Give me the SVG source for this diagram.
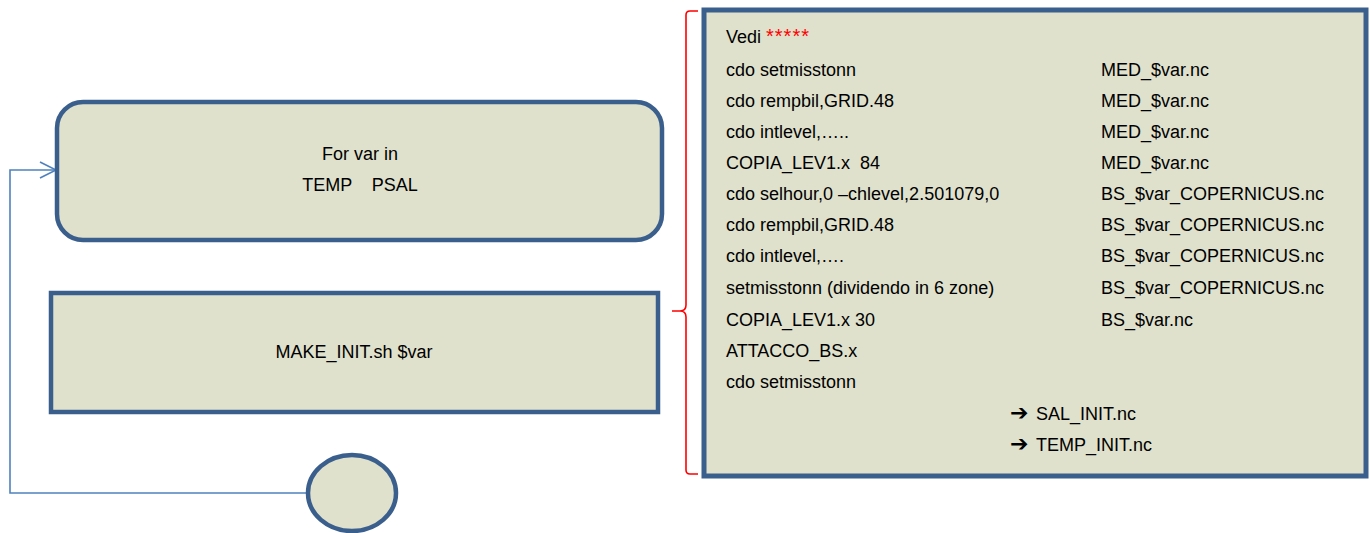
<svg xmlns="http://www.w3.org/2000/svg" width="1370" height="533" viewBox="0 0 1370 533">
<defs>
<style>
.box{fill:#DFE1CC;stroke:#3A5F8C;stroke-width:4.5}
.t{font-family:"Liberation Sans",Arial,sans-serif;font-size:18px;fill:#000}
.c{text-anchor:middle}
.ar{font-family:"DejaVu Sans",sans-serif;font-weight:bold;font-size:22px}
.conn{fill:none;stroke:#4F81BD;stroke-width:1.6}
</style>
<marker id="open" viewBox="0 0 20 20" refX="18" refY="10" markerWidth="20" markerHeight="20" markerUnits="userSpaceOnUse" orient="auto">
<path d="M2,2 L18,10 L2,18" fill="none" stroke="#4F81BD" stroke-width="1.6"/>
</marker>
</defs>
<g id="connectors">
<path class="conn" d="M308,493 H10 V170 H56" marker-end="url(#open)"/>
<path id="brace" d="M698,11 H690 Q686,11 686,15 V305 Q686,311 680,311 H672 M680,311 Q686,311 686,317 V470 Q686,474 690,474 H698" fill="none" stroke="#FF0000" stroke-width="1.6"/>
</g>
<g id="loop">
<rect class="box" x="57" y="102" width="605" height="138" rx="26"/>
<text class="t c" x="360" y="160">For var in</text>
<text class="t c" x="360" y="191" xml:space="preserve">TEMP    PSAL</text>
</g>
<g id="make">
<rect class="box" x="51" y="293" width="607" height="119"/>
<text class="t c" x="354" y="358">MAKE_INIT.sh $var</text>
</g>
<g id="end">
<ellipse class="box" cx="352" cy="493" rx="44" ry="38"/>
</g>
<g id="details">
<rect class="box" x="704" y="10" width="662" height="466" style="stroke-width:5"/>
<text class="t" x="726" y="43">Vedi <tspan fill="#FF0000" font-size="20" letter-spacing="1">*****</tspan></text>
<text class="t" x="726" y="76">cdo setmisstonn</text>
<text class="t" x="726" y="107">cdo rempbil,GRID.48</text>
<text class="t" x="726" y="138">cdo intlevel,…..</text>
<text class="t" x="726" y="169" xml:space="preserve">COPIA_LEV1.x  84</text>
<text class="t" x="726" y="200">cdo selhour,0 –chlevel,2.501079,0</text>
<text class="t" x="726" y="231">cdo rempbil,GRID.48</text>
<text class="t" x="726" y="262">cdo intlevel,….</text>
<text class="t" x="726" y="294">setmisstonn (dividendo in 6 zone)</text>
<text class="t" x="726" y="326">COPIA_LEV1.x 30</text>
<text class="t" x="726" y="357">ATTACCO_BS.x</text>
<text class="t" x="726" y="388">cdo setmisstonn</text>
<text class="t" x="1101" y="76">MED_$var.nc</text>
<text class="t" x="1101" y="107">MED_$var.nc</text>
<text class="t" x="1101" y="138">MED_$var.nc</text>
<text class="t" x="1101" y="169">MED_$var.nc</text>
<text class="t" x="1101" y="200">BS_$var_COPERNICUS.nc</text>
<text class="t" x="1101" y="231">BS_$var_COPERNICUS.nc</text>
<text class="t" x="1101" y="262">BS_$var_COPERNICUS.nc</text>
<text class="t" x="1101" y="294">BS_$var_COPERNICUS.nc</text>
<text class="t" x="1101" y="326">BS_$var.nc</text>
<text class="t" x="1010" y="420"><tspan class="ar">➔</tspan><tspan x="1036">SAL_INIT.nc</tspan></text>
<text class="t" x="1010" y="451"><tspan class="ar">➔</tspan><tspan x="1036">TEMP_INIT.nc</tspan></text>
</g>
</svg>
